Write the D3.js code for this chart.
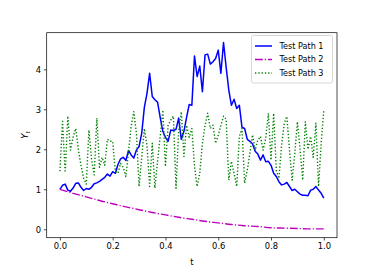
<!DOCTYPE html>
<html>
<head>
<meta charset="utf-8">
<script src="https://cdn.jsdelivr.net/npm/d3@7"></script>
<style>
  html, body { margin: 0; padding: 0; background: #fff; }
  svg { display: block; font-family: "DejaVu Sans", sans-serif; }
</style>
</head>
<body>
<svg id="chart" width="374" height="273"></svg>
<script>
// values
const path1T = d3.range(0, 101).map(i => i / 100);
const path1 = [
  1.00, 1.10, 1.13, 0.98, 0.95, 1.03, 1.15, 1.16, 1.05, 0.97,
  1.02, 1.00, 1.05, 1.14, 1.16, 1.20, 1.25, 1.30, 1.38, 1.33,
  1.44, 1.40, 1.62, 1.76, 1.80, 1.72, 1.97, 1.86, 1.78, 1.98,
  2.07, 2.40, 3.05, 3.40, 3.90, 3.32, 3.24, 3.18, 2.80, 2.45,
  2.30, 2.20, 2.48, 2.47, 2.50, 2.78, 2.25, 2.45, 2.80, 3.12,
  3.10, 4.33, 3.82, 4.08, 3.44, 4.36, 4.38, 4.13, 4.19, 4.27,
  4.48, 3.90, 4.67, 4.05, 3.48, 3.10, 3.25, 3.02, 3.10, 2.55,
  2.52, 2.25, 2.20, 2.13, 1.95, 1.88, 1.73, 1.86, 1.69, 1.70,
  1.60, 1.40, 1.32, 1.19, 1.11, 1.13, 1.17, 1.07, 0.97, 1.00,
  0.94, 0.88, 0.85, 0.85, 0.84, 0.98, 1.00, 1.07, 0.98, 0.90,
  0.78
];

const path2T = d3.range(0, 21).map(i => i / 20);
const path2 = [
  1.00, 0.90, 0.81, 0.72, 0.64, 0.56, 0.49, 0.42, 0.36, 0.30,
  0.25, 0.20, 0.16, 0.12, 0.09, 0.07, 0.04, 0.03, 0.02, 0.01,
  0.01
];

const path3T = d3.range(0, 101).map(i => i / 100);
const path3 = [
  1.45, 2.70, 1.42, 2.83, 1.98, 2.30, 2.52, 2.00, 1.60, 1.27,
  1.13, 2.48, 1.75, 1.36, 2.78, 1.55, 1.80, 1.60, 2.25, 2.20,
  2.20, 1.45, 1.40, 1.65, 1.55, 1.32, 1.95, 2.57, 2.94, 2.40,
  1.07, 1.80, 2.52, 2.10, 1.07, 2.15, 1.03, 1.70, 2.32, 2.98,
  1.57, 2.60, 2.73, 2.83, 1.03, 2.45, 2.94, 1.82, 2.60, 2.30,
  2.52, 1.57, 1.07, 1.40, 2.15, 2.60, 2.90, 2.52, 2.60, 2.15,
  2.35, 2.60, 2.83, 2.75, 1.23, 1.70, 1.40, 1.07, 2.32, 2.52,
  1.15, 1.48, 1.90, 2.36, 1.98, 2.23, 2.32, 1.98, 2.28, 2.90,
  1.73, 2.90, 1.48, 1.27, 2.10, 2.65, 2.82, 1.98, 1.23, 1.90,
  2.69, 2.00, 1.23, 2.69, 2.00, 2.32, 1.80, 2.65, 1.07, 2.15,
  2.98
];

const xTicks = [0, 0.2, 0.4, 0.6, 0.8, 1.0];
const yTicks = [0, 1, 2, 3, 4];
const seriesNames = ['Test Path 1', 'Test Path 2', 'Test Path 3'];

const svg = d3.select('#chart');
const plotLeft = 46.7, plotRight = 337, plotTop = 32.7, plotBottom = 237.7;

const x = d3.scaleLinear().domain([-0.05, 1.05]).range([plotLeft, plotRight]);
const y = d3.scaleLinear().domain([-0.21, 4.915]).range([plotBottom, plotTop]);

// Series styles
const series = [
  { name: seriesNames[0], t: path1T, v: path1, color: '#0000ff', dash: null, width: 1.5, curve: d3.curveLinear },
  { name: seriesNames[1], t: path2T, v: path2, color: '#bf00bf', dash: '7.8,2,1.2,2', width: 1.4, curve: d3.curveMonotoneX },
  { name: seriesNames[2], t: path3T, v: path3, color: '#008000', dash: '1.3,2', width: 1.4, curve: d3.curveLinear }
];

const plot = svg.append('g');
plot.append('defs').append('clipPath').attr('id', 'clip')
  .append('rect').attr('x', plotLeft).attr('y', plotTop)
  .attr('width', plotRight - plotLeft).attr('height', plotBottom - plotTop);

const lines = plot.append('g').attr('clip-path', 'url(#clip)');
series.forEach(s => {
  const pts = s.t.map((t, i) => [t, s.v[i]]);
  lines.append('path')
    .attr('d', d3.line().x(d => x(d[0])).y(d => y(d[1])).curve(s.curve)(pts))
    .attr('fill', 'none')
    .attr('stroke', s.color)
    .attr('stroke-width', s.width)
    .attr('stroke-dasharray', s.dash)
    .attr('stroke-linejoin', 'round');
});

// Axes
const xAxis = d3.axisBottom(x).tickValues(xTicks).tickFormat(d3.format('.1f')).tickSize(2.8).tickPadding(2.8);
const yAxis = d3.axisLeft(y).tickValues(yTicks).tickFormat(d3.format('d')).tickSize(2.8).tickPadding(2.8);

const gx = svg.append('g').attr('transform', `translate(0,${plotBottom})`).call(xAxis);
const gy = svg.append('g').attr('transform', `translate(${plotLeft},0)`).call(yAxis);
[gx, gy].forEach(g => {
  g.select('.domain').remove();
  g.selectAll('.tick line').attr('stroke', '#000').attr('stroke-width', 0.7);
  g.selectAll('.tick text').attr('fill', '#000').style('font-size', '8.4px')
    .style('font-family', '"DejaVu Sans", sans-serif');
});

// Frame
svg.append('rect')
  .attr('x', plotLeft).attr('y', plotTop)
  .attr('width', plotRight - plotLeft).attr('height', plotBottom - plotTop)
  .attr('fill', 'none').attr('stroke', '#000').attr('stroke-width', 0.7);

// Axis labels
svg.append('text')
  .attr('x', (plotLeft + plotRight) / 2).attr('y', 265)
  .attr('text-anchor', 'middle')
  .style('font-size', '8.4px')
  .text('t');

const ylab = svg.append('text')
  .attr('transform', 'translate(28,135) rotate(-90)')
  .attr('text-anchor', 'middle')
  .style('font-size', '8.4px')
  .style('font-style', 'italic');
ylab.append('tspan').text('Y');
ylab.append('tspan').attr('dy', 2).style('font-size', '5.9px').text('t');

// Legend
const leg = svg.append('g');
leg.append('rect')
  .attr('x', 251.5).attr('y', 35.5).attr('width', 81).attr('height', 47.5)
  .attr('rx', 2).attr('fill', '#fff').attr('fill-opacity', 0.8)
  .attr('stroke', '#ccc').attr('stroke-width', 0.8);
series.forEach((s, i) => {
  const ly = 46 + i * 13.5;
  leg.append('line')
    .attr('x1', 255).attr('x2', 272).attr('y1', ly).attr('y2', ly)
    .attr('stroke', s.color).attr('stroke-width', s.width)
    .attr('stroke-dasharray', s.dash);
  leg.append('text')
    .attr('x', 279.5).attr('y', ly).attr('dy', '0.35em')
    .style('font-size', '8.1px')
    .text(s.name);
});
</script>
</body>
</html>
